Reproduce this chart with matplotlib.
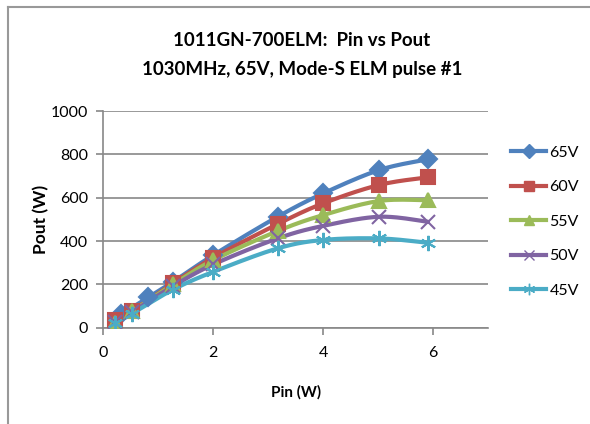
import numpy as np
import matplotlib
matplotlib.use("Agg")
import matplotlib.pyplot as plt
from matplotlib.lines import Line2D

plt.rcParams['font.family'] = ['Lato', 'DejaVu Sans']

# data
pin_65 = [0.33, 0.82, 1.27, 2.0, 3.17, 4.0, 5.02, 5.9]
pout_65 = [62, 140, 212, 335, 512, 620, 728, 777]
pin = [0.21, 0.52, 1.27, 2.0, 3.17, 4.0, 5.02, 5.9]
pout_60 = [35, 78, 205, 323, 478, 574, 659, 694]
pout_55 = [22, 75, 200, 312, 446, 520, 585, 588]
pout_50 = [25, 72, 192, 292, 412, 470, 512, 489]
pout_45 = [20, 65, 176, 258, 366, 405, 412, 392]

labels = ['65V', '60V', '55V', '50V', '45V']
colors = ['#4F81BD', '#C0504D', '#9BBB59', '#8064A2', '#4BACC6']
markers = ['D', 's', '^', 'x', (6, 2, 0)]
msizes = [9, 10, 10, 10, 11]


def smooth(x, y, n=20):
    # catmull-rom curve through the points (like excel "smoothed line")
    x = np.asarray(x, float)
    y = np.asarray(y, float)
    px = np.concatenate([[x[0]], x, [x[-1]]])
    py = np.concatenate([[y[0]], y, [y[-1]]])
    xs, ys = [], []
    t = np.linspace(0, 1, n)
    for i in range(1, len(px) - 2):
        for p, out in ((px, xs), (py, ys)):
            p0, p1, p2, p3 = p[i - 1], p[i], p[i + 1], p[i + 2]
            c1 = p1 + (p2 - p0) / 6
            c2 = p2 - (p3 - p1) / 6
            out.extend((1 - t) ** 3 * p1 + 3 * (1 - t) ** 2 * t * c1
                       + 3 * (1 - t) * t ** 2 * c2 + t ** 3 * p2)
    return xs, ys


fig = plt.figure(figsize=(5.9, 4.24), dpi=100)
ax = fig.add_axes([0.175, 0.2271, 0.6526, 0.5111])

series = [(pin_65, pout_65), (pin, pout_60), (pin, pout_55),
          (pin, pout_50), (pin, pout_45)]
for (x, y), c, m, ms in zip(series, colors, markers, msizes):
    sx, sy = smooth(x, y)
    ax.plot(sx, sy, color=c, lw=3, solid_capstyle='round', zorder=3)
    ax.plot(x, y, ls='none', marker=m, ms=ms, color=c, mec=c, mew=1.5, zorder=4)

ax.set_xlim(0, 7)
ax.set_ylim(0, 1000)
ax.set_xticks([0, 2, 4, 6])
ax.set_yticks(range(0, 1001, 200))
ax.grid(axis='y', color='#888888', lw=1.2)
ax.set_axisbelow(True)
for s in ['top', 'right']:
    ax.spines[s].set_visible(False)
for s in ['left', 'bottom']:
    ax.spines[s].set_color('#888888')
    ax.spines[s].set_linewidth(1.2)
ax.tick_params(colors='#888888', length=5, width=1.2, labelcolor='black',
               labelsize=11.5)
ax.tick_params(axis='y', pad=6)
ax.tick_params(axis='x', pad=8)

ax.set_xlabel('Pin (W)', fontweight='bold', fontsize=11, labelpad=18)
ax.set_ylabel('Pout (W)', fontweight='bold', fontsize=12.5, labelpad=1)

fig.text(0.512, 0.905, '1011GN-700ELM:  Pin vs Pout', ha='center', va='center',
         fontsize=13.5, fontweight='bold')
fig.text(0.512, 0.835, '1030MHz, 65V, Mode-S ELM pulse #1', ha='center',
         va='center', fontsize=13.5, fontweight='bold')

handles = [Line2D([], [], color=c, lw=3, marker=m, ms=ms * 0.75, mec=c)
           for c, m, ms in zip(colors, markers, msizes)]
fig.legend(handles, labels, loc='upper left', bbox_to_anchor=(0.853, 0.676),
           frameon=False, fontsize=11.5, handlelength=2.2, handletextpad=0.2,
           labelspacing=1.28, borderpad=0)

# outer chart border (top and left visible)
fig.add_artist(Line2D([8 / 590, 1], [1 - 7 / 424, 1 - 7 / 424],
                      color='#999999', lw=1.5, transform=fig.transFigure))
fig.add_artist(Line2D([8 / 590, 8 / 590], [0, 1 - 7 / 424],
                      color='#999999', lw=1.5, transform=fig.transFigure))

fig.savefig('out.png', dpi=100)
